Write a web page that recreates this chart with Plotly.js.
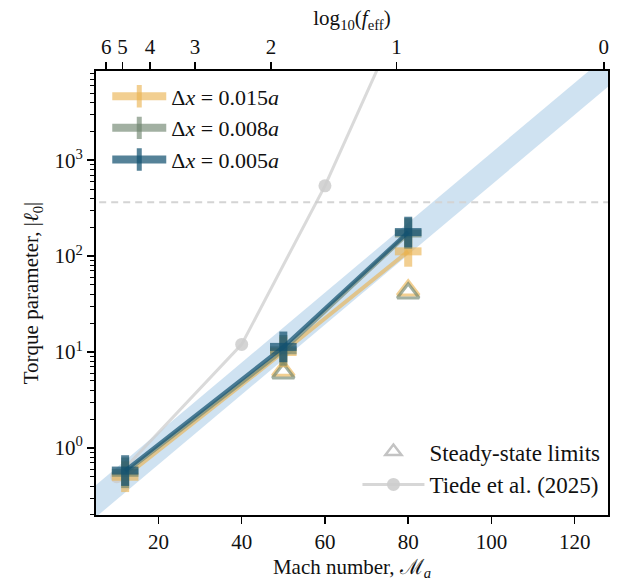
<!DOCTYPE html>
<html>
<head>
<meta charset="utf-8">
<script src="https://cdn.plot.ly/plotly-3.0.1.min.js"></script>
<style>html,body{margin:0;padding:0;background:#fff;}#chart{width:623px;height:584px;}</style>
</head>
<body>
<div id="chart"></div>
<script>
// ---- data ----
const mach = [12, 50, 80];
const l0_dx015 = [0.50, 10.0, 112];
const l0_dx008 = [0.55, 10.4, 172];
const l0_dx005 = [0.58, 11.3, 178];

const steadyMach = [50, 80];
const steady_dx015 = [6.4, 44];
const steady_dx008 = [6.0, 41];

const tiedeMach = [10, 40, 60, 80];
const tiedeL0 = [0.5, 12, 540, 46000];

const bandMach = [0, 130];
const bandLow = [0.125, 6890];
const bandHigh = [0.27, 14830];

const threshold = 365;

const topTickMach = [7.45, 11.36, 18.0, 28.8, 47.05, 77.2, 127.0];
const topTickText = ['6', '5', '4', '3', '2', '1', '0'];

const yTickVals = [1, 10, 100, 1000];
const yTickText = ['10<sup>0</sup>', '10<sup>1</sup>', '10<sup>2</sup>', '10<sup>3</sup>'];

const seriesNames = ['Δ<i>x</i> = 0.015<i>a</i>', 'Δ<i>x</i> = 0.008<i>a</i>', 'Δ<i>x</i> = 0.005<i>a</i>'];

// ---- styling ----
const FONT = 'Liberation Serif, Times New Roman, serif';
const colYellow = 'rgba(234,178,78,0.62)';
const colGreen = 'rgba(105,128,105,0.62)';
const colTeal = 'rgba(20,82,112,0.72)';
const xErr = 3.2;      // half-width in Mach
const yErrDex = 0.16;  // half-height in dex

function crossTrace(y, color) {
  const up = y.map(v => v * (Math.pow(10, yErrDex) - 1));
  const dn = y.map(v => v * (1 - Math.pow(10, -yErrDex)));
  return {
    x: mach, y: y, type: 'scatter', mode: 'lines',
    line: {color: color, width: 4},
    error_x: {type: 'constant', value: xErr, color: color, thickness: 8, width: 0},
    error_y: {type: 'data', symmetric: false, array: up, arrayminus: dn, color: color, thickness: 8, width: 0},
    showlegend: false, hoverinfo: 'skip'
  };
}

function legendCross(name, color) {
  return {
    x: [null], y: [null], type: 'scatter', mode: 'lines+markers', name: name,
    line: {color: color, width: 8},
    marker: {symbol: 'line-ns-open', size: 16, line: {color: color, width: 8}},
    legend: 'legend'
  };
}

const traces = [
  // band
  {x: bandMach, y: bandLow, type: 'scatter', mode: 'lines', line: {width: 0, color: 'rgba(0,0,0,0)'}, showlegend: false, hoverinfo: 'skip'},
  {x: bandMach, y: bandHigh, type: 'scatter', mode: 'lines', fill: 'tonexty', fillcolor: 'rgba(160,198,228,0.5)', line: {width: 0, color: 'rgba(0,0,0,0)'}, showlegend: false, hoverinfo: 'skip'},
  // threshold
  {x: bandMach, y: [threshold, threshold], type: 'scatter', mode: 'lines', line: {color: 'rgb(212,212,212)', width: 2, dash: '7px,5px'}, showlegend: false, hoverinfo: 'skip'},
  // Tiede
  {x: tiedeMach, y: tiedeL0, type: 'scatter', mode: 'lines+markers', line: {color: 'rgba(205,205,205,0.75)', width: 3}, marker: {color: 'rgba(205,205,205,0.85)', size: 13}, showlegend: false, hoverinfo: 'skip', cliponaxis: true},
  // steady-state
  {x: steadyMach, y: steady_dx015, type: 'scatter', mode: 'markers', marker: {symbol: 'triangle-up-open', size: 19, color: colYellow, line: {color: colYellow, width: 3}}, showlegend: false, hoverinfo: 'skip'},
  {x: steadyMach, y: steady_dx008, type: 'scatter', mode: 'markers', marker: {symbol: 'triangle-up-open', size: 19, color: colGreen, line: {color: colGreen, width: 3}}, showlegend: false, hoverinfo: 'skip'},
  // series
  crossTrace(l0_dx015, colYellow),
  crossTrace(l0_dx008, colGreen),
  crossTrace(l0_dx005, colTeal),
  // legend 1
  legendCross(seriesNames[0], colYellow),
  legendCross(seriesNames[1], colGreen),
  legendCross(seriesNames[2], colTeal),
  // legend 2
  {x: [null], y: [null], type: 'scatter', mode: 'markers', name: 'Steady-state limits', marker: {symbol: 'triangle-up-open', size: 14, color: 'rgb(195,195,195)', line: {color: 'rgb(195,195,195)', width: 2.5}}, legend: 'legend2'},
  {x: [null], y: [null], type: 'scatter', mode: 'lines+markers', name: 'Tiede et al. (2025)', line: {color: 'rgba(205,205,205,0.8)', width: 3}, marker: {color: 'rgba(205,205,205,0.9)', size: 13}, legend: 'legend2'},
  // top axis carrier
  {x: [null], y: [null], xaxis: 'x2', yaxis: 'y', type: 'scatter', mode: 'markers', showlegend: false, hoverinfo: 'skip'}
];

const layout = {
  width: 623, height: 584,
  margin: {l: 96, r: 15, t: 71, b: 69},
  paper_bgcolor: '#fff', plot_bgcolor: '#fff',
  font: {family: FONT, size: 21, color: '#111'},
  showlegend: true,
  xaxis: {
    range: [5, 128], showgrid: false, zeroline: false,
    showline: true, linecolor: '#000', linewidth: 2, mirror: true,
    ticks: 'outside', ticklen: 7, tickwidth: 1.5, tickcolor: '#000',
    tickvals: [20, 40, 60, 80, 100, 120],
    tickfont: {family: FONT, size: 21},
    title: {text: 'Mach number, ℳ<sub><i>a</i></sub>', font: {family: FONT, size: 21}, standoff: 6}
  },
  xaxis2: {
    overlaying: 'x', side: 'top', range: [5, 128], showgrid: false, zeroline: false,
    showline: true, linecolor: '#000', linewidth: 2,
    ticks: 'outside', ticklen: 7, tickwidth: 1.5, tickcolor: '#000',
    tickvals: topTickMach, ticktext: topTickText,
    tickfont: {family: FONT, size: 21},
    title: {text: 'log<sub>10</sub>(<i>f</i><sub>eff</sub>)', font: {family: FONT, size: 21}, standoff: 3}
  },
  yaxis: {
    type: 'log', range: [-0.70, 3.93], showgrid: false, zeroline: false,
    showline: true, linecolor: '#000', linewidth: 2, mirror: true,
    ticks: 'outside', ticklen: 7, tickwidth: 1.5, tickcolor: '#000',
    tickvals: yTickVals, ticktext: yTickText,
    tickfont: {family: FONT, size: 21},
    minor: {ticks: 'outside', ticklen: 4, tickwidth: 1, tickcolor: '#000', dtick: 'D1', showgrid: false},
    title: {text: 'Torque parameter, |<i>ℓ</i><sub>0</sub>|', font: {family: FONT, size: 21}, standoff: 10}
  },
  legend: {
    x: 0.022, y: 0.99, xanchor: 'left', yanchor: 'top', traceorder: 'normal',
    bgcolor: 'rgba(255,255,255,0)', borderwidth: 0,
    font: {family: FONT, size: 22}, itemwidth: 54, tracegroupgap: 0
  },
  legend2: {
    x: 0.995, y: 0.02, xanchor: 'right', yanchor: 'bottom', traceorder: 'normal',
    bgcolor: 'rgba(255,255,255,0)', borderwidth: 0,
    font: {family: FONT, size: 23}, itemwidth: 62
  }
};

Plotly.newPlot('chart', traces, layout, {displayModeBar: false, staticPlot: true});
</script>
</body>
</html>
